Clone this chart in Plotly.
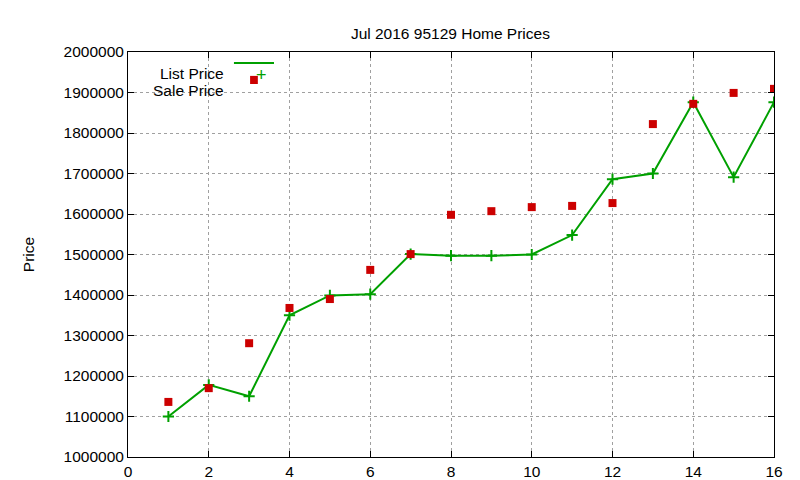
import plotly.graph_objects as go

months = list(range(1, 17))
list_price = [1100000, 1178000, 1150000, 1350000, 1399000, 1402000, 1501000, 1497000,
              1497000, 1500000, 1548000, 1686000, 1700000, 1876000, 1691000, 1876000]
sale_price = [1136000, 1170000, 1281000, 1368000, 1390000, 1462000, 1501000, 1598000,
              1607000, 1617000, 1620000, 1627000, 1822000, 1872000, 1899000, 1909000]

green = '#00a000'
red = '#cc0000'

fig = go.Figure()
fig.add_trace(go.Scatter(x=months, y=list_price, mode='lines+markers', name='List Price',
                         line=dict(color=green, width=2),
                         marker=dict(symbol='cross-thin', size=8, line=dict(color=green, width=2))))
fig.add_trace(go.Scatter(x=months, y=sale_price, mode='markers', name='Sale Price',
                         marker=dict(symbol='square', size=8, color=red)))

axis = dict(showline=True, linecolor='black', linewidth=1, mirror='ticks',
            ticks='inside', ticklen=6, tickcolor='black', automargin=False,
            showgrid=True, gridcolor='#a0a0a0', griddash='dot', gridwidth=1,
            zeroline=False, tickfont=dict(size=15.5, color='black'))

fig.update_xaxes(range=[0, 16], dtick=2, **axis)
fig.update_yaxes(range=[1000000, 2000000], dtick=100000, tickformat='d', **axis)

# gnuplot-style key: text on the left, sample on the right
fig.add_annotation(x=0.152, y=0.973, xref='paper', yref='paper', text='List Price',
                   showarrow=False, xanchor='right', font=dict(size=15.5, color='black'))
fig.add_annotation(x=0.152, y=0.931, xref='paper', yref='paper', text='Sale Price',
                   showarrow=False, xanchor='right', font=dict(size=15.5, color='black'))
fig.add_shape(type='line', xref='paper', yref='paper', x0=0.164, x1=0.226, y0=0.973, y1=0.973,
              line=dict(color=green, width=2))
fig.add_annotation(x=0.195, y=0.973, xref='paper', yref='paper', text='+', showarrow=False,
                   font=dict(size=18, color=green))
fig.add_shape(type='rect', xref='paper', yref='paper', x0=0.189, x1=0.201, y0=0.921, y1=0.941,
              fillcolor=red, line=dict(width=0))
fig.add_annotation(x=12, y=0.5, xref='paper', yref='paper', text='Price', textangle=-90,
                   showarrow=False, font=dict(size=15.5, color='black'))
fig.update_annotations(selector=dict(text='Price'), x=-0.17)

fig.update_layout(
    width=800, height=480,
    title=dict(text='Jul 2016 95129 Home Prices', x=0.553, y=0.958, xanchor='center',
               font=dict(size=15.5, color='black')),
    font=dict(family='Liberation Sans, Arial, sans-serif', color='black'),
    showlegend=False,
    paper_bgcolor='white', plot_bgcolor='white',
    margin=dict(l=120, r=34, t=44, b=31),
)

fig.write_html("out.html")
